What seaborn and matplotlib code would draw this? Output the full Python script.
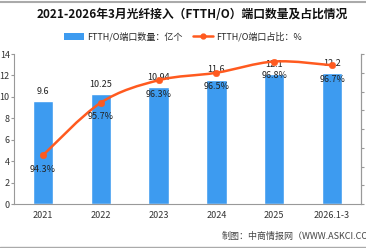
import numpy as np
import matplotlib
matplotlib.use("Agg")
import matplotlib.pyplot as plt
from matplotlib.path import Path
from matplotlib.patches import PathPatch
from matplotlib.lines import Line2D
from matplotlib.patches import Patch
import seaborn as sns

years = ["2021", "2022", "2023", "2024", "2025", "2026.1-3"]
ports = [9.6, 10.25, 10.94, 11.6, 12.1, 12.2]
port_labels = ["9.6", "10.25", "10.94", "11.6", "12.1", "12.2"]
share = [94.3, 95.7, 96.3, 96.5, 96.8, 96.7]

bar_color = "#3D9BF0"
line_color = "#FF5A1F"

sns.set_style("white")
plt.rcParams["font.family"] = ["Noto Sans CJK SC", "DejaVu Sans"]

fig = plt.figure(figsize=(3.66, 2.48), dpi=100)
ax = fig.add_axes([14 / 366, 44 / 248, 347 / 366, 150 / 248])

sns.barplot(x=years, y=ports, color=bar_color, saturation=1, width=0.35, ax=ax)
ax.set_xlim(-0.5, 5.5)
ax.set_ylim(0, 14)
ax.set_yticks(range(0, 15, 2))
ax.set_xticks(np.arange(6))
ax.set_xticklabels(years)
ax.set_xticks(np.arange(-0.5, 6, 1), minor=True)
ax.tick_params(axis="x", which="major", length=0, labelsize=6.5, pad=5, colors="#333333")
ax.tick_params(axis="x", which="minor", length=3, color="#999999", direction="out")
ax.tick_params(axis="y", length=2, labelsize=6.5, pad=1, colors="#333333", color="#999999", direction="out")
ax.set_xlabel("")
ax.set_ylabel("")
ax.spines["top"].set_visible(False)
for side in ["left", "bottom", "right"]:
    ax.spines[side].set_color("#999999")
    ax.spines[side].set_linewidth(0.8)

for i, (v, lab) in enumerate(zip(ports, port_labels)):
    ax.annotate(lab, (i, v), xytext=(0, 7), textcoords="offset points",
                ha="center", va="center", fontsize=6.5, color="#222222")

ax2 = ax.twinx()
ax2.set_ylim(93, 97)
ax2.set_yticks(np.arange(93, 97.01, 0.5))
# the percent axis labels fall outside the image in the original
ax2.tick_params(axis="y", length=2.5, labelright=False, color="#999999", direction="out")
for side in ["top", "left", "bottom"]:
    ax2.spines[side].set_visible(False)
ax2.spines["right"].set_color("#999999")
ax2.spines["right"].set_linewidth(0.8)

# smooth line through the points (bezier path)
xs = np.arange(len(share), dtype=float)
ys = np.array(share, dtype=float)
pts = np.column_stack([xs, ys])
verts = [pts[0]]
codes = [Path.MOVETO]
n = len(pts)
for i in range(n - 1):
    p0 = pts[i - 1] if i > 0 else pts[i]
    p1 = pts[i]
    p2 = pts[i + 1]
    p3 = pts[i + 2] if i + 2 < n else pts[i + 1]
    verts += [p1 + (p2 - p0) / 6, p2 - (p3 - p1) / 6, p2]
    codes += [Path.CURVE4] * 3
ax2.add_patch(PathPatch(Path(verts, codes), fill=False, edgecolor=line_color, lw=1.8, zorder=3))
sns.scatterplot(x=xs, y=ys, color=line_color, s=22, edgecolor=line_color, zorder=4, ax=ax2)

for i, v in enumerate(share):
    ax2.annotate(f"{v}%", (i, v), xytext=(0, -10), textcoords="offset points",
                 ha="center", va="center", fontsize=6.5, color="#222222", zorder=5)

handles = [Patch(facecolor=bar_color, edgecolor="none"),
           Line2D([0], [0], color=line_color, lw=1.8, marker="o", markersize=3.5)]
fig.legend(handles, ["FTTH/O端口数量：亿个", "FTTH/O端口占比：%"], loc="center",
           bbox_to_anchor=(0.5, 1 - 37 / 248), ncol=2, frameon=False, fontsize=6.5,
           handlelength=2.2, handleheight=0.8, columnspacing=1.2, handletextpad=0.3)

fig.text(192 / 366, 1 - 15 / 248, "2021-2026年3月光纤接入（FTTH/O）端口数量及占比情况",
         ha="center", va="center", fontsize=8.5, fontweight="bold", color="#111111")
fig.text(222 / 366, 1 - 236 / 248, "制图：中商情报网（WWW.ASKCI.COM）", ha="left",
         va="center", fontsize=6.5, color="#444444")

fig.add_artist(Line2D([0, 1], [1 - 1.5 / 248, 1 - 1.5 / 248], color="#aaaaaa", lw=1.5))
fig.add_artist(Line2D([0, 1], [1.5 / 248, 1.5 / 248], color="#aaaaaa", lw=1.0))

fig.savefig("out.png", dpi=100)
